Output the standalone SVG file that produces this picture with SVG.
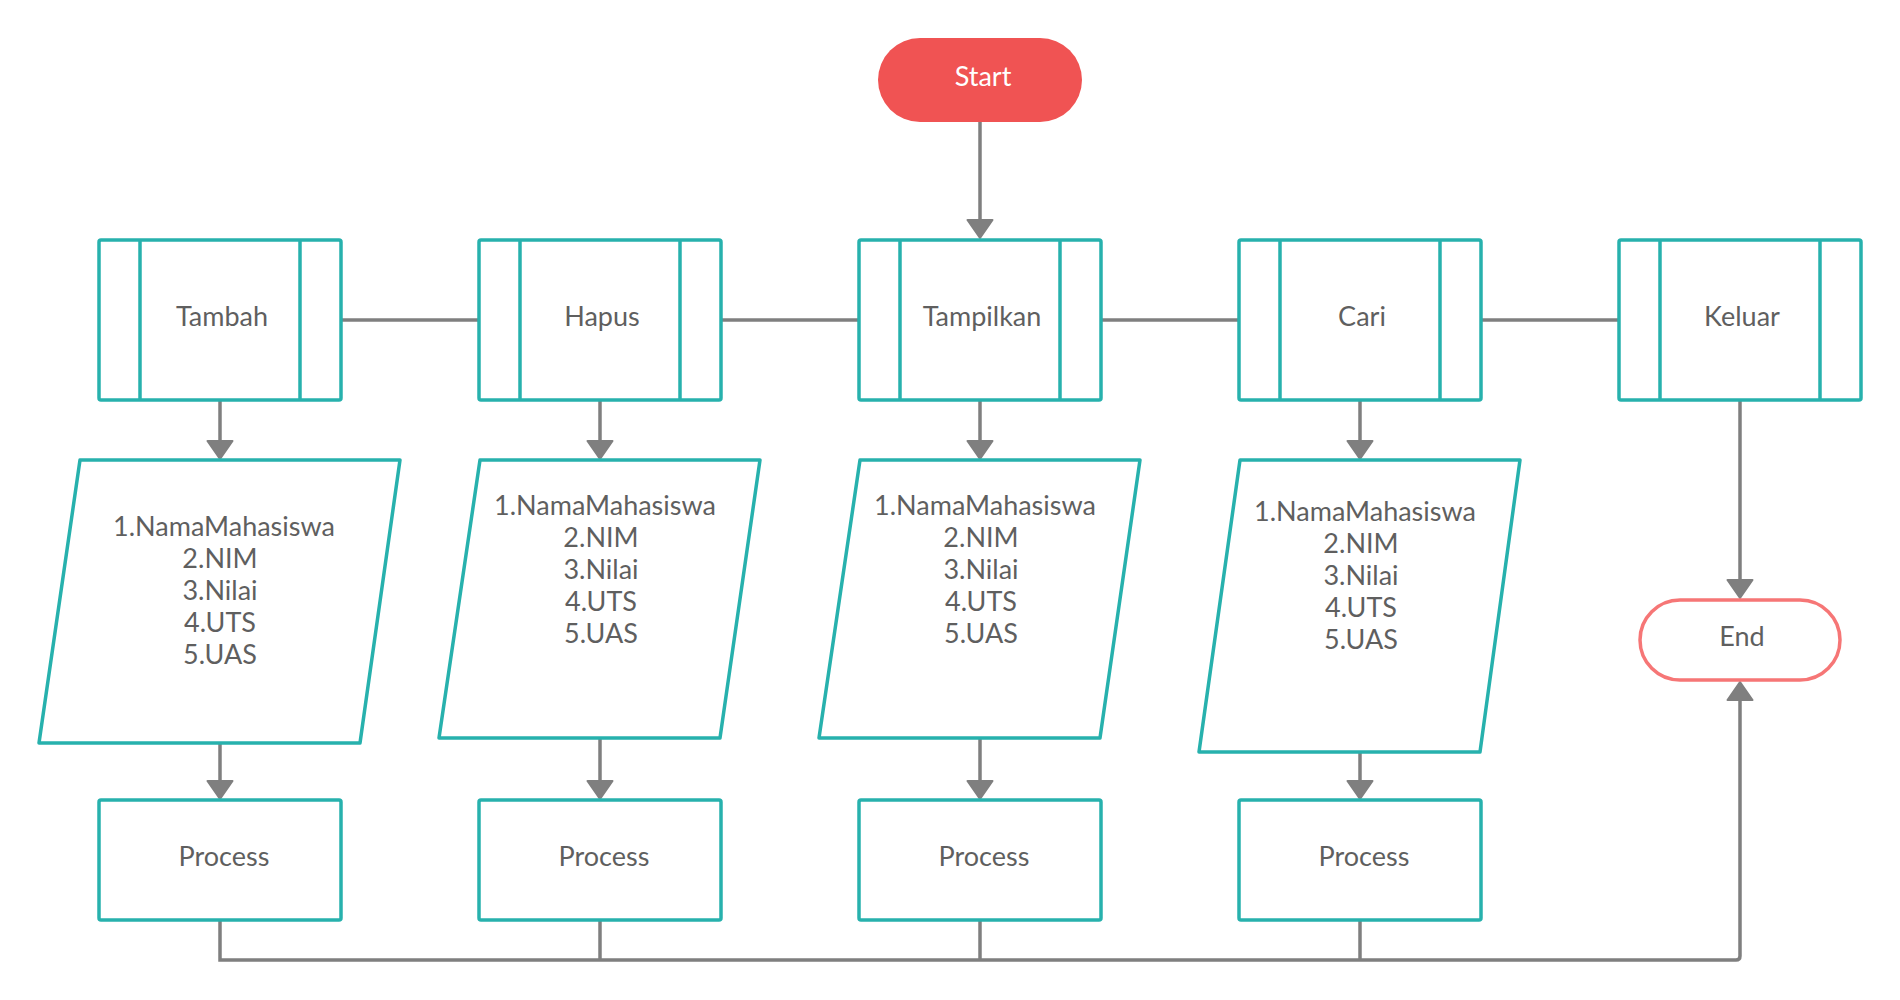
<svg xmlns="http://www.w3.org/2000/svg" width="1900" height="1000" viewBox="0 0 1900 1000">
<defs>
<marker id="arr" viewBox="0 0 20 28" refX="11" refY="14" markerWidth="20" markerHeight="28" markerUnits="userSpaceOnUse" orient="auto">
<path d="M1,1.5 L19,14 L1,26.5 Z" fill="#7f7f7f" stroke="#7f7f7f" stroke-width="2" stroke-linejoin="round"/>
</marker>
<style>
.sh{fill:#ffffff;stroke:#27b1ad;stroke-width:3.5;stroke-linejoin:round}
.t{font-family:Lato,"Open Sans","Liberation Sans",sans-serif;font-size:27px;fill:#5f5f5f;text-anchor:middle}
.c{fill:none;stroke:#7f7f7f;stroke-width:3.5}
.a{marker-end:url(#arr)}
</style>
</defs>
<rect width="1900" height="1000" fill="#ffffff"/>

<g id="connectors">
<path class="c a" d="M980,122 V230"/>
<path class="c" d="M341,320 H479"/>
<path class="c" d="M721,320 H859"/>
<path class="c" d="M1101,320 H1239"/>
<path class="c" d="M1481,320 H1619"/>
<path class="c a" d="M220,400 V451"/>
<path class="c a" d="M600,400 V451"/>
<path class="c a" d="M980,400 V451"/>
<path class="c a" d="M1360,400 V451"/>
<path class="c a" d="M220,743 V791"/>
<path class="c a" d="M600,738 V791"/>
<path class="c a" d="M980,738 V791"/>
<path class="c a" d="M1360,752 V791"/>
<path class="c a" d="M1740,400 V590"/>
<path class="c a" d="M220,920 V960 H1736 Q1740,960 1740,956 V690"/>
<path class="c" d="M600,920 V960"/>
<path class="c" d="M980,920 V960"/>
<path class="c" d="M1360,920 V960"/>
</g>

<g id="start">
<rect x="878" y="38" width="204" height="84" rx="42" fill="#f05353"/>
<text x="983" y="86" class="t" style="fill:#ffffff">Start</text>
</g>

<g id="tambah">
<rect class="sh" x="99" y="240" width="242" height="160" rx="2"/>
<path class="sh" d="M140,240 V400 M300,240 V400"/>
<text x="222" y="326" class="t">Tambah</text>
</g>
<g id="hapus">
<rect class="sh" x="479" y="240" width="242" height="160" rx="2"/>
<path class="sh" d="M520,240 V400 M680,240 V400"/>
<text x="602" y="326" class="t">Hapus</text>
</g>
<g id="tampilkan">
<rect class="sh" x="859" y="240" width="242" height="160" rx="2"/>
<path class="sh" d="M900,240 V400 M1060,240 V400"/>
<text x="982" y="326" class="t">Tampilkan</text>
</g>
<g id="cari">
<rect class="sh" x="1239" y="240" width="242" height="160" rx="2"/>
<path class="sh" d="M1280,240 V400 M1440,240 V400"/>
<text x="1362" y="326" class="t">Cari</text>
</g>
<g id="keluar">
<rect class="sh" x="1619" y="240" width="242" height="160" rx="2"/>
<path class="sh" d="M1660,240 V400 M1820,240 V400"/>
<text x="1742" y="326" class="t">Keluar</text>
</g>

<g id="data-tambah">
<polygon class="sh" points="80,460 400,460 360,743 39,743"/>
<text class="t"><tspan x="224" y="536">1.NamaMahasiswa</tspan><tspan x="220" y="568">2.NIM</tspan><tspan x="220" y="600">3.Nilai</tspan><tspan x="220" y="632">4.UTS</tspan><tspan x="220" y="664">5.UAS</tspan></text>
</g>
<g id="data-hapus">
<polygon class="sh" points="480,460 760,460 720,738 439,738"/>
<text class="t"><tspan x="605" y="515">1.NamaMahasiswa</tspan><tspan x="601" y="547">2.NIM</tspan><tspan x="601" y="579">3.Nilai</tspan><tspan x="601" y="611">4.UTS</tspan><tspan x="601" y="643">5.UAS</tspan></text>
</g>
<g id="data-tampilkan">
<polygon class="sh" points="860,460 1140,460 1100,738 819,738"/>
<text class="t"><tspan x="985" y="515">1.NamaMahasiswa</tspan><tspan x="981" y="547">2.NIM</tspan><tspan x="981" y="579">3.Nilai</tspan><tspan x="981" y="611">4.UTS</tspan><tspan x="981" y="643">5.UAS</tspan></text>
</g>
<g id="data-cari">
<polygon class="sh" points="1240,460 1520,460 1480,752 1199,752"/>
<text class="t"><tspan x="1365" y="521">1.NamaMahasiswa</tspan><tspan x="1361" y="553">2.NIM</tspan><tspan x="1361" y="585">3.Nilai</tspan><tspan x="1361" y="617">4.UTS</tspan><tspan x="1361" y="649">5.UAS</tspan></text>
</g>

<g id="process-1">
<rect class="sh" x="99" y="800" width="242" height="120" rx="2"/>
<text x="224" y="866" class="t">Process</text>
</g>
<g id="process-2">
<rect class="sh" x="479" y="800" width="242" height="120" rx="2"/>
<text x="604" y="866" class="t">Process</text>
</g>
<g id="process-3">
<rect class="sh" x="859" y="800" width="242" height="120" rx="2"/>
<text x="984" y="866" class="t">Process</text>
</g>
<g id="process-4">
<rect class="sh" x="1239" y="800" width="242" height="120" rx="2"/>
<text x="1364" y="866" class="t">Process</text>
</g>

<g id="end">
<rect x="1640" y="600" width="200" height="80" rx="40" fill="#ffffff" stroke="#f67676" stroke-width="3.5"/>
<text x="1742" y="646" class="t">End</text>
</g>
</svg>
